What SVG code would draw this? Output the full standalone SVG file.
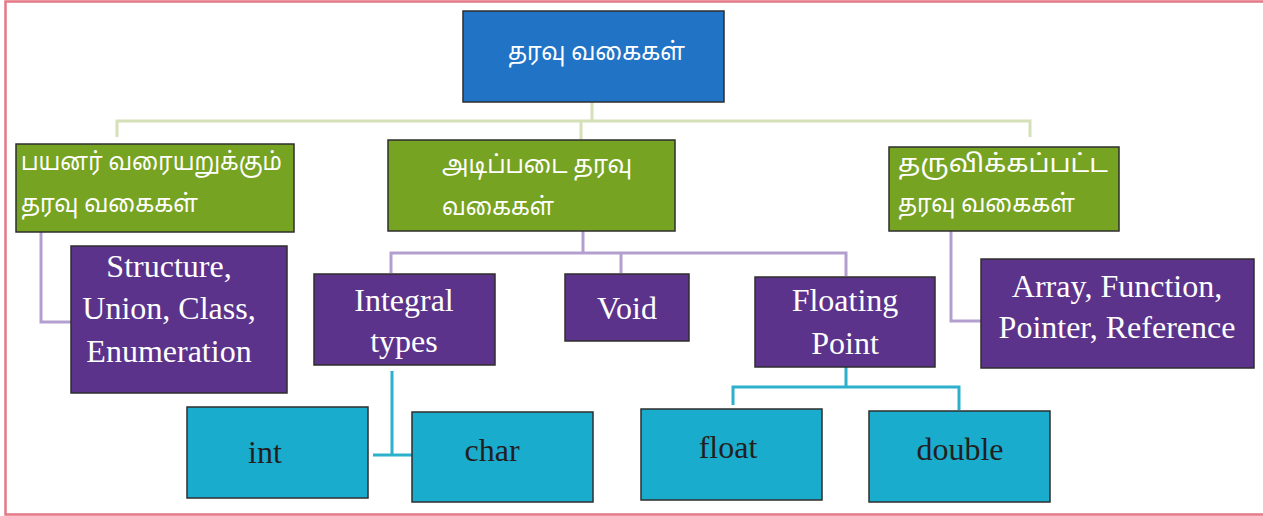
<svg xmlns="http://www.w3.org/2000/svg" width="1263" height="516" viewBox="0 0 1263 516">
<style>
.box{stroke:#2e2e2e;stroke-width:1.5}
.blue{fill:#2173C6}
.green{fill:#77A322}
.purple{fill:#5C338B}
.cyan{fill:#1AACCD}
.ta{font-family:"Noto Sans Tamil","Noto Sans","DejaVu Sans",sans-serif;font-size:24.5px;fill:#ffffff}
.en{font-family:"Liberation Serif",serif;font-size:32px;text-anchor:middle}
.w{fill:#ffffff}
.d{fill:#231F20}
.cg{fill:none;stroke:#D4E0B8;stroke-width:3}
.cp{fill:none;stroke:#B39FCF;stroke-width:3}
.cc{fill:none;stroke:#2DB0CC;stroke-width:3}
</style>
<rect width="1263" height="516" fill="#ffffff"/>
<path d="M1263 1.5 H5.5 V514.5 H1263" fill="none" stroke="#E47886" stroke-width="2.5"/>
<g id="connectors">
<path class="cg" d="M592 102 V121 M117 137 V121 H1030 V137 M581 121 V139"/>
<path class="cp" d="M41 232 V322 H71"/>
<path class="cp" d="M583 231 V253 M391 273 V253 H846 V276 M621 253 V273"/>
<path class="cp" d="M951 231 V321 H981"/>
<path class="cc" d="M392 371 V455 M373 455 H412"/>
<path class="cc" d="M846 367 V387 M733 405 V387 H959 V410"/>
</g>
<g id="root"><rect class="box blue" x="463" y="11" width="261" height="91"/><text class="ta" x="508" y="60" textLength="177" lengthAdjust="spacingAndGlyphs">தரவு வகைகள்</text></g>
<g id="user-defined"><rect class="box green" x="16" y="144" width="278" height="88"/><text class="ta" x="21" y="170" textLength="261" lengthAdjust="spacingAndGlyphs">பயனர் வரையறுக்கும்</text><text class="ta" x="21" y="212" textLength="177" lengthAdjust="spacingAndGlyphs">தரவு வகைகள்</text></g>
<g id="basic"><rect class="box green" x="388" y="140" width="287" height="91"/><text class="ta" x="442" y="173" textLength="190" lengthAdjust="spacingAndGlyphs">அடிப்படை தரவு</text><text class="ta" x="442" y="215" textLength="112" lengthAdjust="spacingAndGlyphs">வகைகள்</text></g>
<g id="derived"><rect class="box green" x="889" y="147" width="230" height="84"/><text class="ta" x="898" y="172" textLength="210" lengthAdjust="spacingAndGlyphs">தருவிக்கப்பட்ட</text><text class="ta" x="898" y="212" textLength="177" lengthAdjust="spacingAndGlyphs">தரவு வகைகள்</text></g>
<g id="structure"><rect class="box purple" x="71" y="246" width="216" height="147"/><text class="en w" x="169" y="277">Structure,</text><text class="en w" x="169" y="319">Union, Class,</text><text class="en w" x="169" y="362">Enumeration</text></g>
<g id="integral"><rect class="box purple" x="314" y="274" width="181" height="91"/><text class="en w" x="404" y="311">Integral</text><text class="en w" x="404" y="352">types</text></g>
<g id="void"><rect class="box purple" x="565" y="274" width="124" height="67"/><text class="en w" x="627" y="319">Void</text></g>
<g id="floating"><rect class="box purple" x="755" y="277" width="180" height="90"/><text class="en w" x="845" y="311">Floating</text><text class="en w" x="845" y="354">Point</text></g>
<g id="array"><rect class="box purple" x="981" y="259" width="273" height="109"/><text class="en w" x="1117" y="297">Array, Function,</text><text class="en w" x="1117" y="338">Pointer, Reference</text></g>
<g id="int"><rect class="box cyan" x="187" y="407" width="181" height="91"/><text class="en d" x="265" y="463">int</text></g>
<g id="char"><rect class="box cyan" x="412" y="412" width="181" height="90"/><text class="en d" x="492" y="461">char</text></g>
<g id="float"><rect class="box cyan" x="641" y="409" width="181" height="91"/><text class="en d" x="728" y="458">float</text></g>
<g id="double"><rect class="box cyan" x="869" y="411" width="181" height="91"/><text class="en d" x="960" y="460">double</text></g>
</svg>
